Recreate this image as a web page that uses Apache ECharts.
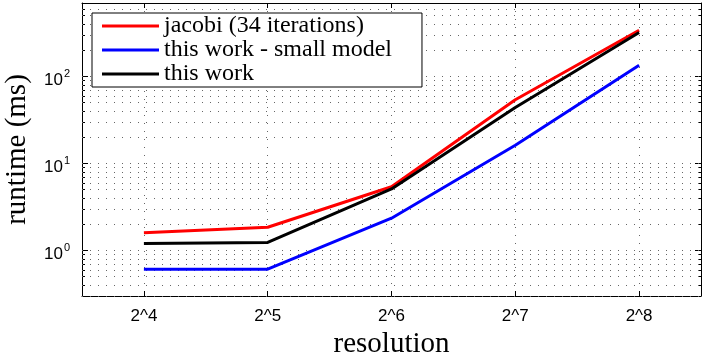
<!DOCTYPE html>
<html>
<head>
<meta charset="utf-8">
<script src="https://cdn.jsdelivr.net/npm/echarts@6/dist/echarts.min.js"></script>
<style>
  html, body { margin: 0; padding: 0; background: #fff; }
  #chart { width: 705px; height: 353px; }
</style>
</head>
<body>
<div id="chart"></div>
<script>
// resolution exponents (2^n)
const resolutionExp = [4, 5, 6, 7, 8]
const jacobi = [1.6, 1.85, 5.4, 54, 340]
const smallModel = [0.61, 0.61, 2.35, 16.2, 135]
const thisWork = [1.2, 1.24, 5.1, 44, 320]
const seriesNames = ["jacobi (34 iterations)", "this work - small model", "this work"]

const yMin = 0.3
const yMax = 700

// minor grid values: 2..9 inside each decade
const minorGrid = []
;[0.1, 1, 10, 100].forEach(d => {
  for (let k = 1; k <= 9; k++) {
    const v = d * k
    if (v > yMin && v < yMax) minorGrid.push(v)
  }
})

const serif = "'Liberation Serif', 'DejaVu Serif', serif"
const sans = "'Liberation Sans', Arial, sans-serif"
const dots = { color: "#666", width: 1, type: [1, 7] }

const pairs = arr => resolutionExp.map((x, i) => [x, arr[i]])

const chart = echarts.init(document.getElementById("chart"))

const makeLine = (name, data, color, extra) => Object.assign({
  name: name,
  type: "line",
  data: pairs(data),
  showSymbol: false,
  symbol: "none",
  lineStyle: { color: color, width: 3 },
  itemStyle: { color: color },
  z: 5
}, extra || {})

chart.setOption({
  animation: false,
  grid: { left: 82, right: 4, top: 3, bottom: 57, outerBoundsMode: "none" },
  legend: {
    orient: "vertical",
    left: 92,
    top: 13,
    data: seriesNames,
    icon: "rect",
    itemWidth: 57,
    itemHeight: 3,
    itemGap: 0,
    padding: [1, 30, 1, 10],
    backgroundColor: "#fff",
    borderColor: "#000",
    borderWidth: 1,
    textStyle: { fontFamily: serif, fontSize: 24, lineHeight: 22, color: "#000" },
    z: 10
  },
  xAxis: [
    {
      type: "value",
      min: 3.5,
      max: 8.5,
      name: "resolution",
      nameLocation: "middle",
      nameGap: 31,
      nameTextStyle: { fontFamily: serif, fontSize: 29, color: "#000" },
      axisLine: { lineStyle: { color: "#000", width: 1 } },
      axisTick: { inside: true, length: 5, lineStyle: { color: "#000" } },
      axisLabel: {
        showMinLabel: false,
        showMaxLabel: false,
        margin: 12,
        fontFamily: sans,
        fontSize: 17,
        color: "#000",
        formatter: v => "2^" + v
      },
      splitLine: { show: true, lineStyle: dots }
    },
    {
      type: "value",
      position: "top",
      min: 3.5,
      max: 8.5,
      axisLine: { lineStyle: { color: "#000", width: 1 } },
      axisTick: { inside: true, length: 5, lineStyle: { color: "#000" } },
      axisLabel: { show: false },
      splitLine: { show: false }
    }
  ],
  yAxis: [
    {
      type: "log",
      min: yMin,
      max: yMax,
      name: "runtime (ms)",
      nameLocation: "middle",
      nameGap: 50,
      nameTextStyle: { fontFamily: serif, fontSize: 29, color: "#000" },
      axisLine: { show: true, lineStyle: { color: "#000", width: 1 } },
      axisTick: { inside: true, length: 6, lineStyle: { color: "#000" } },
      minorTick: { show: true, splitNumber: 9, length: 3, lineStyle: { color: "#000" } },
      axisLabel: {
        showMinLabel: false,
        showMaxLabel: false,
        margin: 12,
        formatter: v => "{b|10}{e|" + Math.round(Math.log10(v)) + "}",
        rich: {
          b: { fontFamily: sans, fontSize: 17, color: "#000", padding: [8, 0, 0, 0] },
          e: { fontFamily: sans, fontSize: 11, color: "#000", padding: [0, 0, 6, 1] }
        }
      },
      splitLine: { show: true, lineStyle: dots }
    },
    {
      type: "log",
      position: "right",
      min: yMin,
      max: yMax,
      axisLine: { show: true, lineStyle: { color: "#000", width: 1 } },
      axisTick: { inside: true, length: 6, lineStyle: { color: "#000" } },
      minorTick: { show: true, splitNumber: 9, length: 3, lineStyle: { color: "#000" } },
      axisLabel: { show: false },
      splitLine: { show: false }
    }
  ],
  series: [
    makeLine(seriesNames[0], jacobi, "#ff0000", {
      markLine: {
        silent: true,
        symbol: "none",
        label: { show: false },
        lineStyle: dots,
        data: minorGrid.map(v => ({ yAxis: v }))
      }
    }),
    makeLine(seriesNames[1], smallModel, "#0000ff"),
    makeLine(seriesNames[2], thisWork, "#000000")
  ]
})
</script>
</body>
</html>
